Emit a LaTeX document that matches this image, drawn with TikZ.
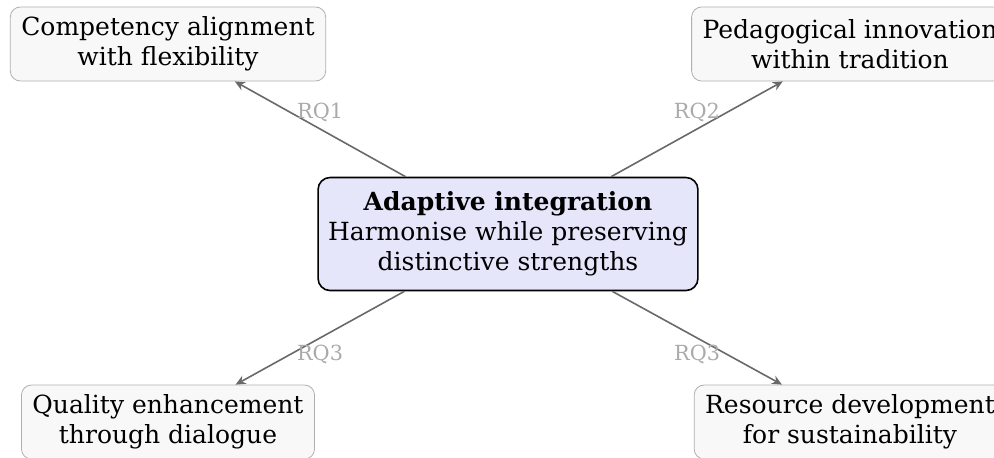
\documentclass[tikz,border=0pt]{standalone}
\usepackage{fontspec}
\setmainfont{DejaVu Serif}
\usetikzlibrary{arrows.meta}
\definecolor{hubfill}{RGB}{230,230,250}
\definecolor{themefill}{RGB}{248,248,248}
\definecolor{themeline}{RGB}{175,175,175}
\definecolor{linkgray}{RGB}{105,105,105}
\definecolor{rqgray}{RGB}{170,170,170}
\tikzstyle{hub} = [
 rectangle,
 draw=black,
 thick,
 fill=hubfill,
 rounded corners=6pt,
 align = center,
 inner xsep = 5pt,
 minimum height = 56.5pt
]
\tikzstyle{theme} = [
 rectangle,
 draw=themeline,
 fill=themefill,
 rounded corners=5pt,
 align = center,
 inner xsep = 5.5pt,
 minimum height = 37pt
]
\tikzstyle{link} = [-{Stealth[length=5pt,width=4.5pt]}, draw=linkgray, thick]
\tikzstyle{rq} = [text=rqgray, font=\fontsize{10.4}{12}\selectfont]

\begin{document}
\begin{tikzpicture}[x=0.5pt, y=-0.5pt, font=\fontsize{12.5}{15}\selectfont]
  \useasboundingbox (0,0) rectangle (994,457);
  \node [hub] (hub) at (508,234)
    {\textbf{Adaptive integration}\\ Harmonise while preserving\\ distinctive strengths};
  \node [theme] (comp) at (168,44) {Competency alignment\\ with flexibility};
  \node [theme] (peda) at (850,44) {Pedagogical innovation\\ within tradition};
  \node [theme] (qual) at (168,422) {Quality enhancement\\ through dialogue};
  \node [theme] (reso) at (850,422) {Resource development\\ for sustainability};
  \draw [link] (hub) -- node[rq, midway, above] {RQ1} (comp);
  \draw [link] (hub) -- node[rq, midway, above] {RQ2} (peda);
  \draw [link] (hub) -- node[rq, midway, below] {RQ3} (qual);
  \draw [link] (hub) -- node[rq, midway, below] {RQ3} (reso);
\end{tikzpicture}
\end{document}
